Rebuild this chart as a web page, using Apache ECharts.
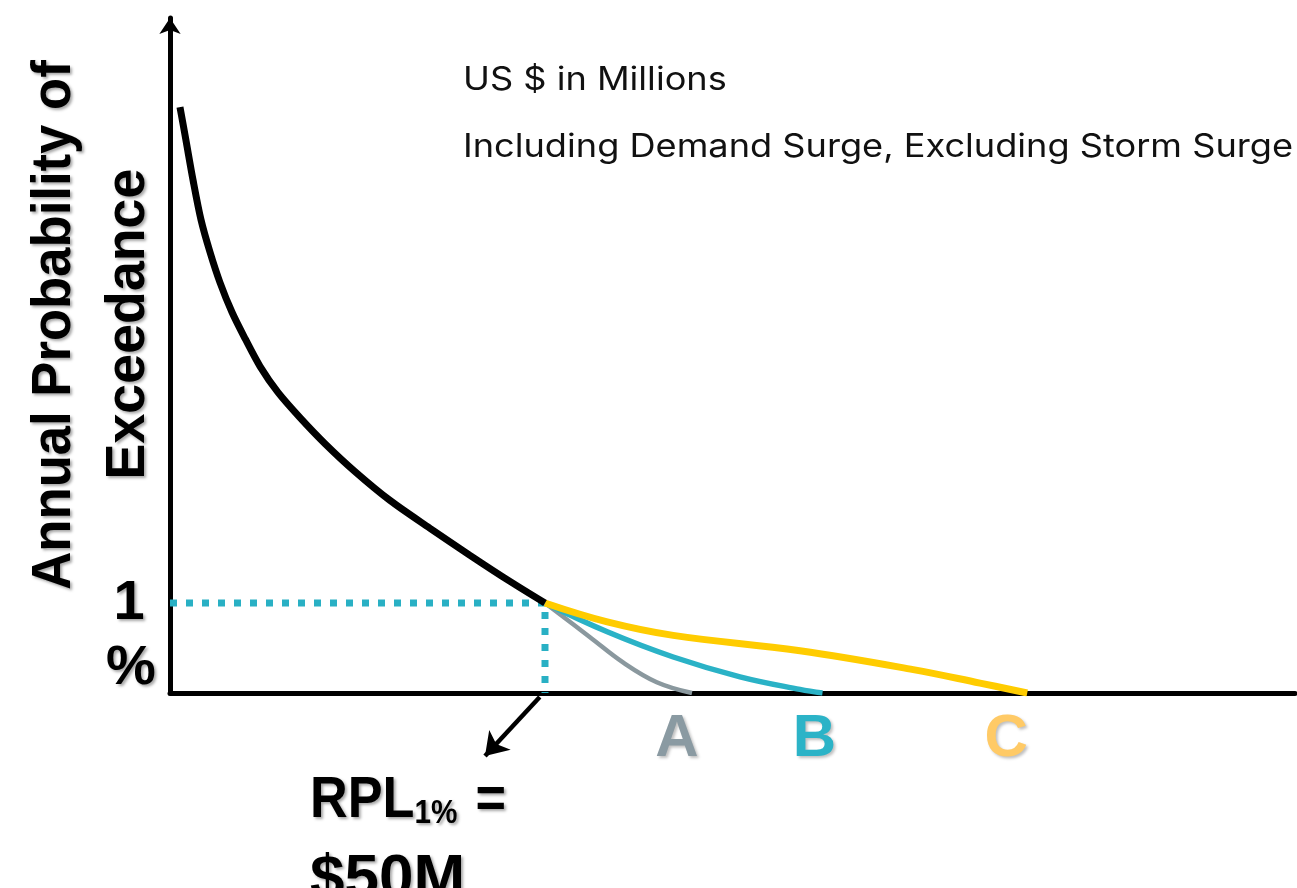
<!DOCTYPE html>
<html>
<head>
<meta charset="utf-8">
<script src="https://cdn.jsdelivr.net/npm/echarts@6/dist/echarts.min.js"></script>
<style>
  html, body { margin: 0; padding: 0; background: #ffffff; }
  #chart { width: 1297px; height: 888px; }
</style>
</head>
<body>
<div id="chart"></div>
<script>
// Exceedance-probability curve: loss in US $ millions vs annual probability (%)
const commonCurve = [[1.33, 6.51], [2.13, 6.14], [3.07, 5.70], [4.13, 5.26], [5.33, 4.90], [6.67, 4.56],
  [8.27, 4.23], [10.0, 3.94], [12.0, 3.63], [14.4, 3.34], [17.33, 3.06], [20.67, 2.77], [24.67, 2.46],
  [29.33, 2.14], [34.67, 1.83], [40.0, 1.53], [45.33, 1.24], [50, 1.0]];
const tailA = [[50, 1.0], [56, 0.62], [60.4, 0.34], [64.9, 0.12], [69.6, 0]];
const tailB = [[50, 1.0], [58.3, 0.68], [67.1, 0.40], [76, 0.18], [84, 0.04], [87, 0]];
const tailC = [[50, 1.0], [58.3, 0.79], [67.1, 0.64], [84, 0.47], [99.1, 0.26], [108, 0.11], [114.3, 0]];
const rplLoss = 50;        // $M at 1% probability
const rplProb = 1;         // %
const tailNames = ['A', 'B', 'C'];
const arrowFrom = [49.3, -0.045];
const arrowTo = [42.0, -0.70];
const headerLines = ['US $ in Millions', 'Including Demand Surge, Excluding Storm Surge'];
const yTitleLines = ['Annual Probability of', 'Exceedance'];

const lineColors = ['#8a989e', '#2ab2c6', '#ffcc00'];
const tagColors = ['#8a9aa2', '#2bb3c7', '#ffca66'];
const tailWidths = [4.5, 5.5, 7];
const tails = [tailA, tailB, tailC];

const chart = echarts.init(document.getElementById('chart'), null, { renderer: 'canvas' });

const series = [
  {
    type: 'line', name: 'rpl-guide', silent: true, symbol: 'none',
    data: [[0, rplProb], [rplLoss, rplProb], [rplLoss, 0]],
    lineStyle: { color: '#29b0c4', width: 7, type: [7, 9] },
    z: 2
  }
];
tails.forEach((d, i) => {
  series.push({
    type: 'line', name: tailNames[i], silent: true, symbol: 'none',
    smooth: 0.4, data: d,
    lineStyle: { color: lineColors[i], width: tailWidths[i], cap: 'butt' },
    z: 3 + i
  });
});
series.push({
  type: 'line', name: 'common', silent: true, symbol: 'none',
  smooth: 0.3, data: commonCurve,
  lineStyle: { color: '#000000', width: 7, cap: 'butt' },
  z: 8
});
series.push({
  type: 'lines', coordinateSystem: 'cartesian2d', silent: true, clip: false,
  symbol: ['none', 'arrow'], symbolSize: [20, 22],
  lineStyle: { color: '#000000', width: 4.5, opacity: 1, curveness: 0 },
  data: [{ coords: [arrowFrom, arrowTo] }],
  z: 9
});

chart.setOption({
  animation: false,
  backgroundColor: '#ffffff',
  grid: { left: 170, right: 2, top: 18, bottom: 195 },
  xAxis: {
    type: 'value', min: 0, max: 150,
    axisLine: { show: true, onZero: false, lineStyle: { color: '#000', width: 5 } },
    axisTick: { show: false }, axisLabel: { show: false }, splitLine: { show: false }
  },
  yAxis: {
    type: 'value', min: 0, max: 7.5,
    axisLine: { show: true, onZero: false, symbol: ['none', 'arrow'], symbolSize: [16, 16],
      lineStyle: { color: '#000', width: 5 } },
    axisTick: { show: false }, axisLabel: { show: false }, splitLine: { show: false }
  },
  series: series
});

const px = (p) => chart.convertToPixel({ gridIndex: 0 }, p);
const shadow = { textShadowColor: 'rgba(0,0,0,0.35)', textShadowBlur: 3, textShadowOffsetX: 2, textShadowOffsetY: 2 };
const boldFont = { fontFamily: 'Liberation Sans, Arial, sans-serif', fontWeight: 'bold' };

const graphics = [];
// header notes
headerLines.forEach((t, i) => {
  graphics.push({
    type: 'text', x: 463, y: i === 0 ? 80 : 147, scaleX: 1.13, silent: true,
    style: { text: t, fontFamily: 'Inter, sans-serif', fontSize: 32, fill: '#111',
      align: 'left', verticalAlign: 'middle' }
  });
});
// vertical axis title
graphics.push({
  type: 'text', x: 55, y: 325, rotation: Math.PI / 2, scaleX: 0.94, silent: true,
  style: Object.assign({ text: yTitleLines[0], fontSize: 56, fill: '#000', align: 'center', verticalAlign: 'middle' }, boldFont, shadow)
});
graphics.push({
  type: 'text', x: 129, y: 324, rotation: Math.PI / 2, scaleX: 0.96, silent: true,
  style: Object.assign({ text: yTitleLines[1], fontSize: 56, fill: '#000', align: 'center', verticalAlign: 'middle' }, boldFont, shadow)
});
// 1% tick label
const p1 = px([0, rplProb]);
graphics.push({
  type: 'text', x: p1[0] - 41, y: p1[1] + 1, silent: true,
  style: Object.assign({ text: '1', fontSize: 56, fill: '#000', align: 'center', verticalAlign: 'middle' }, boldFont, shadow)
});
graphics.push({
  type: 'text', x: p1[0] - 39, y: p1[1] + 66, silent: true,
  style: Object.assign({ text: '%', fontSize: 56, fill: '#000', align: 'center', verticalAlign: 'middle' }, boldFont, shadow)
});
// tail end tags
const tagShift = [-15, -8, -21];
tails.forEach((d, i) => {
  const e = px(d[d.length - 1]);
  graphics.push({
    type: 'text', x: e[0] + tagShift[i], y: e[1] + 46, silent: true,
    style: Object.assign({ text: tailNames[i], fontSize: 60, fill: tagColors[i], align: 'center', verticalAlign: 'middle' }, boldFont,
      { textShadowColor: 'rgba(0,0,0,0.25)', textShadowBlur: 3, textShadowOffsetX: 2, textShadowOffsetY: 2 })
  });
});
// RPL annotation
const pa = px(arrowTo);
graphics.push({
  type: 'text', x: pa[0] - 175, y: pa[1] + 45, scaleX: 0.9, silent: true,
  style: Object.assign({
    text: 'RPL{sub|1%} =', fontSize: 58, fill: '#000', align: 'left', verticalAlign: 'middle',
    rich: { sub: { fontSize: 33, fontWeight: 'bold', fontFamily: 'Liberation Sans, Arial, sans-serif', fill: '#000', verticalAlign: 'bottom', padding: [0, 4, 0, 0] } }
  }, boldFont, shadow)
});
graphics.push({
  type: 'text', x: pa[0] - 175, y: pa[1] + 124, scaleX: 1.0, silent: true,
  style: Object.assign({ text: '$' + rplLoss + 'M', fontSize: 62, fill: '#000', align: 'left', verticalAlign: 'middle' }, boldFont, shadow)
});

chart.setOption({ graphic: graphics });
</script>
</body>
</html>
